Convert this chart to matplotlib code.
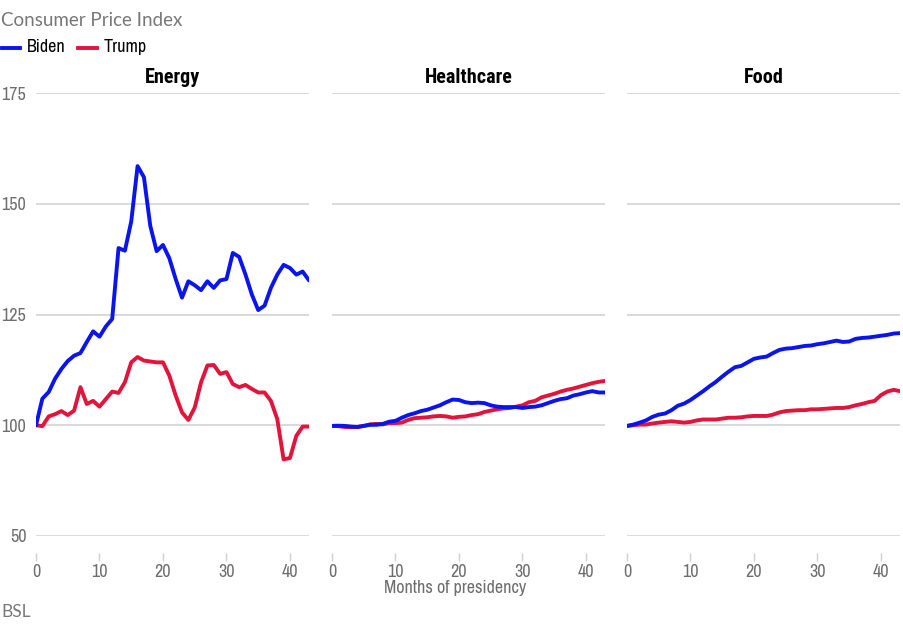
import matplotlib
matplotlib.use('Agg')
import matplotlib.pyplot as plt

# Months since inauguration
months = list(range(44))

# CPI index (start of presidency = 100)
energy_biden = [100, 106, 107.5, 110.5, 112.7, 114.5, 115.7, 116.3, 118.8, 121.2,
                120, 122.3, 124, 140, 139.4, 146, 158.5, 156, 145, 139.3,
                140.7, 137.7, 133, 128.8, 132.5, 131.6, 130.5, 132.5, 131, 132.7,
                133, 138.9, 138, 134, 129.5, 126, 127, 131, 134, 136.2,
                135.5, 134, 134.7, 132.7]
energy_trump = [100, 99.8, 102, 102.5, 103.2, 102.3, 103.3, 108.6, 104.8, 105.5,
                104.2, 105.9, 107.6, 107.3, 109.7, 114.2, 115.4, 114.6, 114.4, 114.2,
                114.2, 111.2, 106.7, 102.9, 101.2, 104, 109.7, 113.5, 113.6, 111.6,
                112, 109.3, 108.6, 109.1, 108.2, 107.4, 107.4, 105.5, 101.4, 92.3,
                92.6, 97.6, 99.7, 99.7]
health_biden = [99.85, 99.9, 99.85, 99.7, 99.6, 99.85, 100.1, 100.1, 100.3, 100.8,
                101, 101.7, 102.3, 102.7, 103.2, 103.5, 104, 104.5, 105.2, 105.8,
                105.7, 105.2, 105, 105.1, 105, 104.5, 104.2, 104.1, 104.1, 104.1,
                103.9, 104.1, 104.2, 104.5, 105, 105.5, 105.9, 106.1, 106.7, 107,
                107.4, 107.7, 107.4, 107.4]
health_trump = [99.85, 99.8, 99.6, 99.55, 99.6, 99.85, 100.2, 100.3, 100.2, 100.5,
                100.5, 100.6, 101.2, 101.6, 101.7, 101.8, 102, 102.1, 102, 101.7,
                101.9, 102, 102.3, 102.5, 103, 103.3, 103.6, 103.8, 103.9, 104.2,
                104.5, 105.2, 105.5, 106.3, 106.7, 107.1, 107.6, 108, 108.3, 108.7,
                109.1, 109.5, 109.8, 110]
food_biden = [99.85, 100.15, 100.6, 101.1, 101.9, 102.4, 102.65, 103.4, 104.4, 104.9,
              105.7, 106.7, 107.7, 108.8, 109.8, 111, 112.1, 113.1, 113.4, 114.2,
              115, 115.3, 115.5, 116.3, 117, 117.3, 117.4, 117.65, 117.9, 118,
              118.3, 118.5, 118.8, 119.1, 118.8, 118.9, 119.5, 119.7, 119.8, 120,
              120.2, 120.4, 120.7, 120.8]
food_trump = [99.85, 100, 100.15, 100.15, 100.4, 100.6, 100.75, 100.9, 100.75, 100.6,
              100.75, 101.1, 101.3, 101.3, 101.3, 101.5, 101.7, 101.7, 101.8, 102,
              102.1, 102.1, 102.1, 102.4, 102.9, 103.2, 103.3, 103.4, 103.4, 103.6,
              103.6, 103.7, 103.8, 103.9, 103.9, 104.1, 104.5, 104.8, 105.2, 105.5,
              106.8, 107.6, 108, 107.7]

panels = ['Energy', 'Healthcare', 'Food']
biden_series = [energy_biden, health_biden, food_biden]
trump_series = [energy_trump, health_trump, food_trump]

# gridlines as drawn in the original (bottom line is labelled "50")
y_grid = [75, 100, 125, 150, 175]
y_labels = ['50', '100', '125', '150', '175']
x_ticks = [0, 10, 20, 30, 40]

BLUE = '#0a14ee'
RED = '#e2143c'
GREY = '#6e6e6e'

plt.rcParams['font.family'] = ['Archivo Narrow', 'DejaVu Sans']
plain = ['Lato', 'DejaVu Sans']
bold_cond = ['Roboto Condensed', 'DejaVu Sans']

fig = plt.figure(figsize=(9.04, 6.28), dpi=100)

lefts = [36 / 904, 332 / 904, 627 / 904]
width = 273 / 904
bottom = 1 - 536 / 628
height = (536 - 93) / 628

for i, name in enumerate(panels):
    ax = fig.add_axes([lefts[i], bottom, width, height])
    ax.plot(months, biden_series[i], color=BLUE, lw=2.8, solid_joinstyle='round', solid_capstyle='round', zorder=3)
    ax.plot(months, trump_series[i], color=RED, lw=2.8, solid_joinstyle='round', solid_capstyle='round', zorder=2)
    ax.set_xlim(0, 43)
    ax.set_ylim(75, 175)
    ax.set_yticks(y_grid)
    ax.grid(axis='y', color='#d0d0d0', lw=1.1)
    ax.set_axisbelow(True)
    for s in ['top', 'right', 'left']:
        ax.spines[s].set_visible(False)
    ax.spines['bottom'].set_position(('outward', 12))
    ax.spines['bottom'].set_visible(False)
    ax.set_xticks(x_ticks)
    ax.tick_params(axis='x', length=6, width=1, color='#d0d0d0', labelcolor=GREY, labelsize=13, pad=2)
    ax.tick_params(axis='y', length=0, labelcolor=GREY, labelsize=13, pad=7)
    if i == 0:
        ax.set_yticklabels(y_labels)
    else:
        ax.set_yticklabels([])
    ax.set_title(name, fontsize=14.5, fontweight='bold', color='black', pad=7, family=bold_cond)
    if i == 1:
        ax.set_xlabel('Months of presidency', color=GREY, fontsize=13, labelpad=3)
        ax.xaxis.set_label_coords(0.45, -0.1)

fig.text(1 / 904, 1 - 20 / 628, 'Consumer Price Index', fontsize=13.5, color='#777777',
         family=plain, va='center', ha='left')

# legend
fig.lines.append(plt.Line2D([2 / 904, 20 / 904], [1 - 48 / 628] * 2, color=BLUE, lw=2.8, transform=fig.transFigure))
fig.text(27 / 904, 1 - 47 / 628, 'Biden', fontsize=13, color='black', va='center', ha='left')
fig.lines.append(plt.Line2D([78 / 904, 97 / 904], [1 - 48 / 628] * 2, color=RED, lw=2.8, transform=fig.transFigure))
fig.text(104 / 904, 1 - 47 / 628, 'Trump', fontsize=13, color='black', va='center', ha='left')

fig.text(1 / 904, 1 - 612 / 628, 'BSL', fontsize=12.5, color='#777777',
         family=plain, va='center', ha='left')

fig.savefig('out.png', dpi=100, facecolor='white')
